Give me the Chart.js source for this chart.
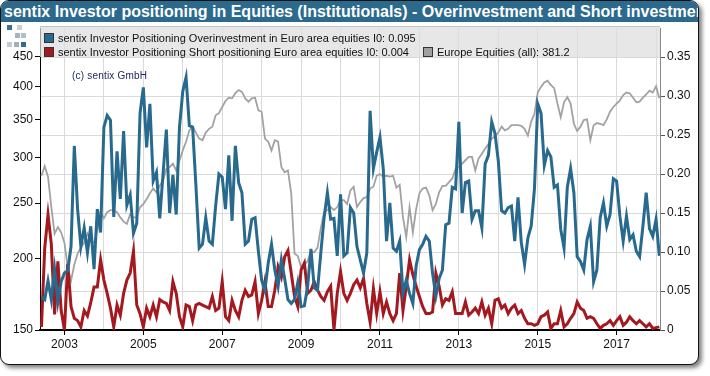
<!DOCTYPE html>
<html><head><meta charset="utf-8">
<script src="https://cdn.jsdelivr.net/npm/chart.js@4.4.1/dist/chart.umd.min.js"></script>
<style>
html,body{margin:0;padding:0;background:#fff;width:710px;height:376px;overflow:hidden;font-family:"Liberation Sans",Arial,sans-serif;}
#card{position:absolute;left:0;top:0;width:697px;height:363px;border:1.5px solid #111;border-radius:9px;box-shadow:3px 3px 4px rgba(0,0,0,0.5);background:#fff;overflow:hidden;}
#title{position:absolute;left:0;top:0;width:697px;height:21px;background:#2b6a8d;color:#fff;font-weight:bold;font-size:16px;line-height:22px;padding-left:3px;white-space:nowrap;overflow:hidden;box-sizing:border-box;}
#cv{position:absolute;left:0;top:0;}
#legend{position:absolute;left:40px;top:26px;width:620px;height:31px;background:rgba(222,222,222,0.72);border-top:1px solid #c4c4c4;box-sizing:border-box;font-size:11px;color:#111;}
.li{position:absolute;white-space:nowrap;line-height:13px;}
.sq{display:inline-block;width:8px;height:8px;border:1px solid #333;margin-right:4px;vertical-align:-1px;}
#copy{position:absolute;left:72px;top:70px;font-size:10px;color:#1a2458;letter-spacing:0.2px;}
.lg{position:absolute;width:5px;height:5px;}
</style></head>
<body>
<div id="card"><div id="title">sentix Investor positioning in Equities (Institutionals) - Overinvestment and Short investment</div></div>
<canvas id="cv" width="710" height="376"></canvas>
<div class="lg" style="left:7px;top:25px;background:#3a6f93"></div>
<div class="lg" style="left:17px;top:25px;background:#c9d0d7"></div>
<div class="lg" style="left:15px;top:33px;background:#a9b3bd"></div>
<div class="lg" style="left:21px;top:33px;background:#b5bec7"></div>
<div class="lg" style="left:7px;top:42px;background:#c3cad1"></div>
<div class="lg" style="left:14px;top:42px;background:#a3aeb9"></div>
<div class="lg" style="left:21px;top:42px;background:#2f6b92"></div>
<div id="legend">
  <div class="li" style="left:4px;top:5px"><span class="sq" style="background:#2a6a8e"></span>sentix Investor Positioning Overinvestment in Euro area equities I0: 0.095</div>
  <div class="li" style="left:4px;top:19px"><span class="sq" style="background:#a3191f"></span>sentix Investor Positioning Short positioning Euro area equities I0: 0.004</div>
  <div class="li" style="left:383px;top:19px"><span class="sq" style="background:#a0a0a0"></span>Europe Equities (all): 381.2</div>
</div>
<div id="copy">(c) sentix GmbH</div>
<script>
// monthly observations, June 2002 .. February 2018
const firstYear = 2002, firstMonth = 6;
const overinvestment = [
0.042,0.039,0.063,0.039,0.078,0.036,0.062,0.073,0.076,0.107,
0.236,0.155,0.107,0.131,0.099,0.133,0.078,0.155,0.125,0.260,
0.275,0.269,0.145,0.229,0.168,0.255,0.160,0.173,0.124,0.137,
0.278,0.311,0.234,0.290,0.191,0.202,0.143,0.200,0.257,0.150,
0.199,0.148,0.260,0.306,0.324,0.262,0.260,0.185,0.105,0.110,
0.144,0.114,0.110,0.159,0.200,0.196,0.155,0.224,0.140,0.236,
0.189,0.176,0.110,0.114,0.142,0.144,0.101,0.064,0.051,0.086,
0.110,0.077,0.056,0.090,0.066,0.039,0.034,0.039,0.061,0.030,
0.031,0.056,0.104,0.054,0.051,0.099,0.144,0.176,0.142,0.143,
0.095,0.174,0.095,0.099,0.157,0.150,0.107,0.090,0.073,0.099,
0.281,0.207,0.228,0.247,0.207,0.114,0.163,0.105,0.101,0.114,
0.047,0.064,0.047,0.034,0.082,0.103,0.110,0.120,0.114,0.073,
0.043,0.066,0.077,0.135,0.137,0.183,0.181,0.267,0.150,0.189,
0.191,0.142,0.153,0.153,0.131,0.213,0.224,0.267,0.252,0.217,
0.153,0.150,0.157,0.159,0.114,0.170,0.112,0.084,0.118,0.133,
0.181,0.290,0.278,0.211,0.230,0.222,0.183,0.186,0.129,0.105,
0.183,0.207,0.176,0.094,0.088,0.077,0.116,0.133,0.062,0.077,
0.144,0.163,0.133,0.148,0.194,0.191,0.146,0.114,0.146,0.116,
0.122,0.101,0.094,0.133,0.176,0.130,0.120,0.142,0.095];
const shortPositioning = [
0.004,0.105,0.148,0.110,0.020,0.088,0.025,0.000,0.085,0.030,
0.015,0.012,0.004,0.025,0.018,0.035,0.055,0.055,0.090,0.064,
0.047,0.028,0.004,0.032,0.019,0.047,0.064,0.073,0.101,0.032,
0.021,0.004,0.028,0.017,0.032,0.017,0.039,0.036,0.034,0.025,
0.062,0.047,0.017,0.004,0.032,0.030,0.012,0.032,0.034,0.032,
0.030,0.028,0.043,0.025,0.028,0.062,0.017,0.012,0.038,0.025,
0.017,0.038,0.051,0.043,0.045,0.062,0.021,0.038,0.062,0.030,
0.030,0.051,0.081,0.068,0.094,0.102,0.073,0.043,0.030,0.077,
0.086,0.047,0.051,0.062,0.051,0.043,0.038,0.049,0.056,0.000,
0.047,0.075,0.047,0.038,0.047,0.058,0.064,0.054,0.066,0.034,
0.010,0.053,0.021,0.049,0.021,0.036,0.021,0.012,0.021,0.073,
0.025,0.056,0.090,0.071,0.056,0.043,0.030,0.021,0.021,0.023,
0.073,0.056,0.032,0.040,0.038,0.049,0.021,0.021,0.021,0.036,
0.019,0.023,0.028,0.021,0.036,0.019,0.028,0.008,0.038,0.040,
0.028,0.032,0.021,0.028,0.032,0.021,0.025,0.015,0.008,0.008,
0.006,0.008,0.017,0.019,0.023,0.002,0.008,0.008,0.025,0.004,
0.008,0.015,0.021,0.036,0.028,0.025,0.015,0.017,0.015,0.008,
0.002,0.006,0.008,0.012,0.006,0.012,0.017,0.006,0.010,0.017,
0.012,0.008,0.012,0.008,0.004,0.008,0.002,0.003,0.004];
const europeEquities = [
279,290,278,246,221,227,222,213,193,183,
195,204,209,213,221,215,213,224,241,235,
241,243,243,241,236,232,230,239,236,236,
246,249,254,260,265,261,268,274,287,289,
293,285,297,309,320,335,340,332,324,322,
332,337,340,356,359,368,377,382,381,389,
394,391,381,376,381,382,363,361,324,320,
309,322,320,289,283,285,260,204,202,193,
195,198,206,205,209,226,241,243,246,243,
246,253,253,249,263,267,246,251,255,256,
265,267,279,281,278,279,278,279,266,269,
236,218,246,222,244,260,265,266,258,243,
249,261,268,268,272,276,287,289,293,297,
301,301,285,299,305,311,317,324,327,332,
340,335,337,342,342,342,341,337,328,347,
358,390,399,406,409,402,397,373,353,375,
383,373,344,334,340,349,350,322,342,345,
344,342,350,361,368,373,378,386,390,389,
382,375,376,382,387,393,390,400,381.2];
const leftTicks = [150,200,250,300,350,400,450];
const rightTicks = [0,0.05,0.10,0.15,0.20,0.25,0.30,0.35];
const yearTicks = [2003,2004,2005,2006,2007,2008,2009,2010,2011,2012,2013,2014,2015,2016,2017,2018];

const times = overinvestment.map((_, i) => {
  const m = firstMonth - 1 + i;
  return firstYear + Math.floor(m / 12) + (m % 12) / 12;
});
const pts = arr => arr.map((v, i) => ({x: times[i], y: v}));

const font = {family: '"Liberation Sans", Arial, sans-serif', size: 12};
new Chart(document.getElementById('cv'), {
  type: 'line',
  data: {datasets: [
    {label: 'Overinvestment', data: pts(overinvestment), yAxisID: 'y2', borderColor: '#28698e', borderWidth: 3, pointRadius: 0, tension: 0},
    {label: 'Short positioning', data: pts(shortPositioning), yAxisID: 'y2', borderColor: '#a3191f', borderWidth: 3, pointRadius: 0, tension: 0},
    {label: 'Europe Equities (all)', data: pts(europeEquities), yAxisID: 'y', borderColor: '#a2a2a2', borderWidth: 1.8, pointRadius: 0, tension: 0}
  ]},
  options: {
    responsive: false, animation: false, devicePixelRatio: 1,
    layout: {padding: {top: 28, left: 0, right: 0, bottom: 0}},
    plugins: {legend: {display: false}, tooltip: {enabled: false}},
    scales: {
      x: {type: 'linear', min: 2002.38, max: 2018.10,
        afterBuildTicks: s => { s.ticks = yearTicks.map(v => ({value: v})); },
        afterFit: s => { s.height = 46; },
        ticks: {autoSkip: false, maxRotation: 0, color: '#111', font, padding: 2,
          callback: v => (v % 2 === 1 ? String(v) : '')},
        grid: {color: '#dadada', lineWidth: 1, tickLength: 5,
          tickColor: c => (c.tick && c.tick.value % 2 === 1 ? '#000' : 'rgba(0,0,0,0)')},
        border: {color: '#000', width: 2}
      },
      y: {type: 'logarithmic', position: 'left', min: 150, max: 505.7,
        afterBuildTicks: s => { s.ticks = leftTicks.map(v => ({value: v})); },
        afterFit: s => { s.width = 40; },
        ticks: {color: '#111', font, padding: 2, callback: v => String(v)},
        grid: {drawOnChartArea: false, tickLength: 5, tickColor: '#000'},
        border: {color: '#000', width: 1}
      },
      y2: {type: 'linear', position: 'right', min: 0, max: 0.3872,
        afterBuildTicks: s => { s.ticks = rightTicks.map(v => ({value: v})); },
        afterFit: s => { s.width = 50; },
        ticks: {color: '#111', font, padding: 2, callback: v => (v === 0 ? '0' : v.toFixed(2))},
        grid: {color: '#dadada', lineWidth: 1, tickLength: 5, tickColor: '#555'},
        border: {color: '#888', width: 1}
      }
    }
  }
});
</script>
</body></html>
